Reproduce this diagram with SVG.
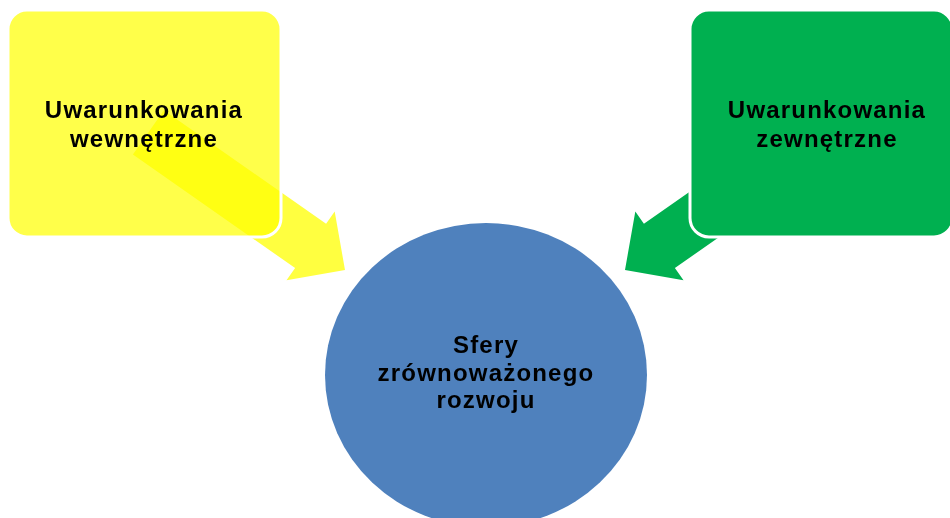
<svg xmlns="http://www.w3.org/2000/svg" xmlns:xlink="http://www.w3.org/1999/xlink" width="950" height="518" viewBox="0 0 950 518">
  <style>
    .lbl { font-family: "Liberation Sans", Arial, sans-serif; font-weight: bold; font-size: 24px; letter-spacing: 1.2px; fill: #000000; text-anchor: middle; }
    .arrow-yellow { fill: #FFFF40; }
    .arrow-green { fill: #00B050; }
    .box-yellow { fill: #FFFF4A; mix-blend-mode: multiply; }
    .box-green { fill: #00B050; }
    .box-outline { fill: none; stroke: #FFFFFF; stroke-width: 3; }
    .circle-blue { fill: #4F81BD; }
  </style>
  <defs>
    <polygon id="blockArrow" points="0,0 -42,-42 -42,-27 -240,-27 -240,27 -42,27 -42,42"/>
  </defs>
  <rect x="0" y="0" width="950" height="518" fill="#FFFFFF"/>

  <g id="connectors">
    <use xlink:href="#blockArrow" href="#blockArrow" class="arrow-yellow" transform="translate(345,270) rotate(35)"/>
    <use xlink:href="#blockArrow" href="#blockArrow" class="arrow-green" transform="translate(625,270) scale(-1,1) rotate(35)"/>
  </g>

  <g id="node-internal">
    <rect class="box-yellow" x="8" y="10" width="273" height="227" rx="19" ry="19"/>
    <rect class="box-outline" x="8" y="10" width="273" height="227" rx="19" ry="19"/>
    <text class="lbl" x="144" y="118">Uwarunkowania</text>
    <text class="lbl" x="144" y="146.5">wewnętrzne</text>
  </g>

  <g id="node-external">
    <rect class="box-green" x="690" y="10" width="263" height="227" rx="19" ry="19"/>
    <rect class="box-outline" x="690" y="10" width="263" height="227" rx="19" ry="19"/>
    <text class="lbl" x="827" y="118">Uwarunkowania</text>
    <text class="lbl" x="827" y="146.5">zewnętrzne</text>
  </g>

  <g id="node-spheres">
    <ellipse class="circle-blue" cx="486" cy="375" rx="161" ry="152"/>
    <text class="lbl" x="486" y="353">Sfery</text>
    <text class="lbl" x="486" y="380.5">zrównoważonego</text>
    <text class="lbl" x="486" y="408">rozwoju</text>
  </g>
</svg>
